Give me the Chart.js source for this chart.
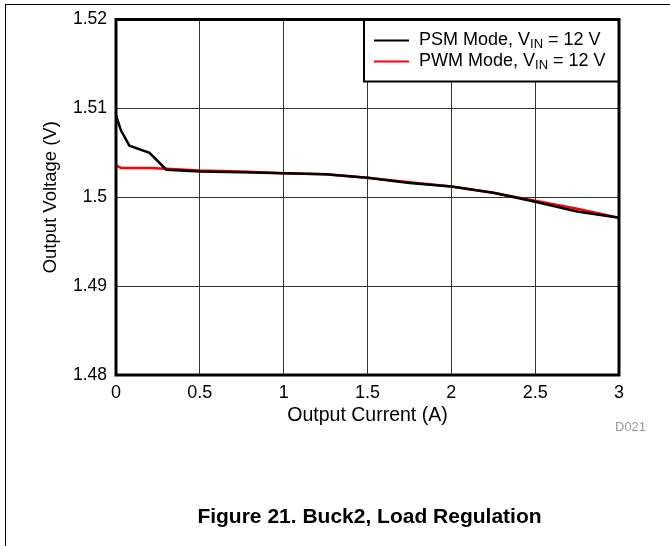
<!DOCTYPE html>
<html>
<head>
<meta charset="utf-8">
<script src="https://cdn.jsdelivr.net/npm/chart.js@4"></script>
<style>
  body { margin: 0; background: #fff; }
  #wrap { position: relative; width: 670px; height: 546px; font-family: Arial, "Liberation Sans", sans-serif; }
  #frame { position: absolute; left: 5px; top: 4px; right: 0; bottom: 0; border-top: 1px solid #000; border-left: 1px solid #000; }
  canvas { position: absolute; left: 0; top: 0; }
  #code { position: absolute; left: 615px; top: 419px; font-size: 13px; color: #999; }
  #caption { position: absolute; left: 0; width: 739px; top: 504px; text-align: center; font-weight: bold; font-size: 21px; color: #000; }
</style>
</head>
<body>
<div id="wrap">
  <div id="frame"></div>
  <canvas id="chart" width="670" height="546"></canvas>
  <div id="code">D021</div>
  <div id="caption">Figure 21. Buck2, Load Regulation</div>
</div>
<script>
// Output current (A)
const currentA = [0, 0.03, 0.08, 0.2, 0.3, 0.5, 0.75, 1, 1.25, 1.5, 1.75, 2, 2.25, 2.5, 2.75, 3];
// Output voltage (V)
const psmVout = [1.5092, 1.5075, 1.5058, 1.5050, 1.5031, 1.5029, 1.5028, 1.5027, 1.5026, 1.5022, 1.5016, 1.5012, 1.5005, 1.4995, 1.4984, 1.4977];
const pwmVout = [1.5036, 1.5033, 1.5033, 1.5033, 1.5032, 1.5030, 1.5029, 1.5027, 1.5026, 1.5022, 1.5017, 1.5012, 1.5005, 1.4996, 1.4987, 1.4977];

const xTicks = [0, 0.5, 1, 1.5, 2, 2.5, 3];
const yTicks = [1.48, 1.49, 1.5, 1.51, 1.52];

const legendItems = [
  { name: "PSM Mode, V", sub: "IN", tail: " = 12 V", color: "#000" },
  { name: "PWM Mode, V", sub: "IN", tail: " = 12 V", color: "#ff0000" }
];

const toPts = (xs, ys) => xs.map((x, i) => ({ x, y: ys[i] }));

// frame round the plot + legend with subscripts
const boxPlugin = {
  id: "box",
  afterDatasetsDraw(chart) {
    const { ctx, chartArea: a } = chart;
    ctx.save();
    // legend
    const lx = 364, ly = a.top, lw = a.right - 364, lh = 62;
    ctx.fillStyle = "#fff";
    ctx.fillRect(lx, ly, lw, lh);
    ctx.strokeStyle = "#000";
    ctx.lineWidth = 2;
    ctx.strokeRect(lx, ly, lw, lh);
    legendItems.forEach((it, i) => {
      const y = ly + 21 + i * 21;
      ctx.strokeStyle = it.color;
      ctx.lineWidth = 2;
      ctx.beginPath();
      ctx.moveTo(374, y);
      ctx.lineTo(409, y);
      ctx.stroke();
      ctx.fillStyle = "#000";
      ctx.textBaseline = "middle";
      ctx.font = "18px Arial, 'Liberation Sans'";
      let x = 419;
      ctx.fillText(it.name, x, y);
      x += ctx.measureText(it.name).width;
      ctx.font = "13px Arial, 'Liberation Sans'";
      ctx.fillText(it.sub, x, y + 4);
      x += ctx.measureText(it.sub).width;
      ctx.font = "18px Arial, 'Liberation Sans'";
      ctx.fillText(it.tail, x, y);
    });
    // plot border
    ctx.strokeStyle = "#000";
    ctx.lineWidth = 3;
    ctx.strokeRect(a.left, a.top, a.right - a.left, a.bottom - a.top);
    ctx.restore();
  }
};

Chart.defaults.font.family = "Arial, 'Liberation Sans', sans-serif";
Chart.defaults.color = "#000";

new Chart(document.getElementById("chart"), {
  type: "line",
  data: {
    datasets: [
      { label: "PSM", data: toPts(currentA, psmVout), borderColor: "#000", borderWidth: 2.5, pointRadius: 0, tension: 0 },
      { label: "PWM", data: toPts(currentA, pwmVout), borderColor: "#ff0000", borderWidth: 2.5, pointRadius: 0, tension: 0 }
    ]
  },
  options: {
    responsive: false,
    animation: false,
    layout: { padding: { left: 0, right: 51, top: 18, bottom: 119 } },
    plugins: { legend: { display: false }, tooltip: { enabled: false } },
    scales: {
      x: {
        type: "linear",
        min: 0, max: 3,
        afterBuildTicks: s => { s.ticks = xTicks.map(v => ({ value: v })); },
        afterFit: s => { s.height = 52; },
        grid: { color: "#333", lineWidth: 1, drawTicks: false },
        border: { display: false },
        ticks: { padding: 7, font: { size: 18 }, callback: v => String(v) },
        title: { display: true, text: "Output Current (A)", font: { size: 19.5 }, padding: { top: 0, bottom: 0 } }
      },
      y: {
        type: "linear",
        min: 1.48, max: 1.52,
        afterBuildTicks: s => { s.ticks = yTicks.map(v => ({ value: v })); },
        afterFit: s => { s.width = 116; },
        grid: { color: "#333", lineWidth: 1, drawTicks: false },
        border: { display: false },
        ticks: { padding: 9, font: { size: 17.5 }, callback: v => String(Math.round(v * 100) / 100) },
        title: { display: true, text: "Output Voltage (V)", font: { size: 18.5 }, padding: { top: 40, bottom: 0 } }
      }
    }
  },
  plugins: [boxPlugin]
});
</script>
</body>
</html>
